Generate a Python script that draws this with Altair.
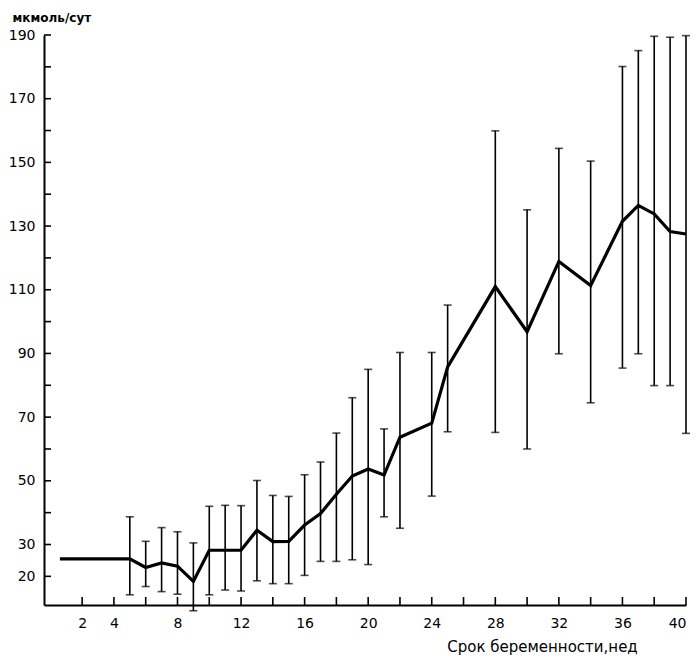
import altair as alt
import pandas as pd

weeks = [0.6, 5, 6, 7, 8, 9, 10, 11, 12, 13, 14, 15, 16, 17, 18, 19, 20, 21, 22, 24, 25,
         28, 30, 32, 34, 36, 37, 38, 39, 40]
means = [25.5, 25.5, 22.8, 24.2, 23.2, 18.4, 28.2, 28.2, 28.2, 34.5, 30.9, 31.0, 36.1, 39.7,
         45.8, 51.5, 53.7, 51.8, 63.7, 68.1, 85.8, 111.0, 96.8, 118.9, 111.3, 131.5, 136.5,
         133.8, 128.3, 127.5]
lows = [None, 14.2, 16.8, 15.2, 14.4, 9.2, 14.2, 15.7, 15.4, 18.6, 17.7, 17.7, 20.3, 24.7,
        24.7, 25.2, 23.7, 38.7, 35.1, 45.2, 65.4, 65.2, 60.0, 89.9, 74.5, 85.4, 89.9, 79.9,
        79.9, 64.9]
highs = [None, 38.7, 31.0, 35.3, 34.0, 30.5, 42.0, 42.3, 42.2, 50.1, 45.4, 45.1, 51.9, 55.9,
         65.0, 76.1, 85.0, 66.3, 90.3, 90.3, 105.2, 159.9, 135.1, 154.4, 150.4, 180.1, 185.1,
         189.6, 189.3, 189.8]

x_labels = [2, 4, 8, 12, 16, 20, 24, 28, 32, 36, 40]
x_ticks = list(range(2, 42, 2))
y_labels = [20, 30, 50, 70, 90, 110, 130, 150, 170, 190]
y_ticks = list(range(20, 200, 10))

W, H = 642, 570
FONT = "DejaVu Sans"

df = pd.DataFrame({"week": weeks, "mean": means, "low": lows, "high": highs})
xs = alt.Scale(domain=[-0.4, 40], nice=False, zero=False)
ys = alt.Scale(domain=[11, 190], nice=False, zero=False)

x_axis = alt.Axis(
    values=x_labels, ticks=False, grid=False, domainColor="black", domainWidth=2,
    labelFont=FONT, labelFontSize=14, labelColor="black", labelPadding=11,
    title="Срок беременности,нед", titleFont=FONT, titleFontSize=15,
    titleFontWeight="normal", titleColor="black", titleX=498, titleY=41,
    titleAlign="center", titleBaseline="middle")
y_axis = alt.Axis(
    values=y_labels, ticks=False, grid=False, domainColor="black", domainWidth=2,
    labelFont=FONT, labelFontSize=14, labelColor="black", labelPadding=9,
    title="мкмоль/сут", titleFont=FONT, titleFontSize=12, titleFontWeight="bold",
    titleColor="black", titleAngle=0, titleAlign="left", titleBaseline="middle",
    titleX=-32, titleY=-18)

base = alt.Chart(df)

line = base.mark_line(color="black", strokeWidth=3.2, strokeJoin="miter").encode(
    x=alt.X("week:Q", scale=xs, axis=x_axis),
    y=alt.Y("mean:Q", scale=ys, axis=y_axis),
)

valid = base.transform_filter("isValid(datum.low)")
bars = valid.mark_rule(color="black", strokeWidth=1.6).encode(
    x=alt.X("week:Q", scale=xs, axis=x_axis),
    y=alt.Y("low:Q", scale=ys, axis=y_axis),
    y2="high:Q",
)
cap_lo = valid.mark_tick(color="black", thickness=1.6, size=8, orient="horizontal").encode(
    x=alt.X("week:Q", scale=xs, axis=x_axis),
    y=alt.Y("low:Q", scale=ys, axis=y_axis),
)
cap_hi = valid.mark_tick(color="black", thickness=1.6, size=8, orient="horizontal").encode(
    x=alt.X("week:Q", scale=xs, axis=x_axis),
    y=alt.Y("high:Q", scale=ys, axis=y_axis),
)

yt = alt.Chart(pd.DataFrame({"v": y_ticks})).mark_rule(color="black", strokeWidth=1.6).encode(
    y=alt.Y("v:Q", scale=ys, axis=y_axis),
    x=alt.value(0), x2=alt.value(7),
)
xt = alt.Chart(pd.DataFrame({"w": x_ticks})).mark_rule(color="black", strokeWidth=1.6).encode(
    x=alt.X("w:Q", scale=xs, axis=x_axis),
    y=alt.value(H), y2=alt.value(H - 8),
)

chart = alt.layer(line, bars, cap_lo, cap_hi, yt, xt).properties(
    width=W, height=H,
    autosize=alt.AutoSizeParams(type="none"),
    padding={"left": 36, "top": 27, "right": 6, "bottom": 55},
).configure(background="white", view=alt.ViewConfig(stroke=None))

chart.save("out.html", embed_options={"renderer": "svg", "actions": False})
